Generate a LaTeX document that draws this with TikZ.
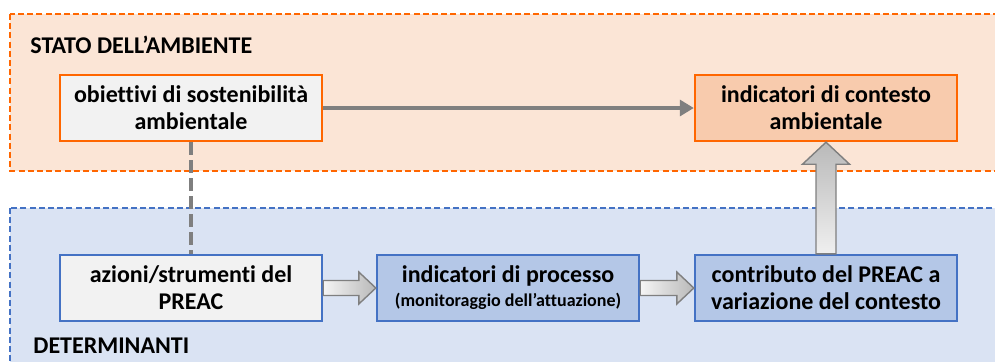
\documentclass[tikz,border=0pt]{standalone}
\usepackage{fontspec}
\setmainfont{Carlito}[Ligatures={NoCommon}]
\usetikzlibrary{calc,arrows.meta}
\definecolor{arancio}{HTML}{FF6600}
\definecolor{blu}{HTML}{4472C4}
\definecolor{grigio}{HTML}{7F7F7F}
\begin{document}
\begin{tikzpicture}[x=0.5pt,y=-0.5pt,
  area/.style={line width=0.8pt, dash pattern=on 3pt off 1.6pt},
  titolo/.style={anchor=west, inner sep=0pt, font=\bfseries\fontsize{12}{14}\selectfont},
  box/.style={line width=1.2pt, minimum width=131pt, minimum height=33pt,
    align=center, inner sep=0pt, font=\bfseries\fontsize{12}{13.5}\selectfont},
  blockarr/.style={draw=grigio, line width=0.7pt, line join=miter}]
  \useasboundingbox (0,0) rectangle (995,361);
  \clip (0,0) rectangle (995,361);
  % le due aree
  \draw[area, draw=arancio, fill={rgb,255:red,251;green,229;blue,214}] (10,14) rectangle (1010,171);
  \draw[area, draw=blu, fill={rgb,255:red,218;green,227;blue,243}] (10,208) rectangle (1010,380);
  \node[titolo] (stato) at (30,45) {STATO DELL’AMBIENTE};
  \node[titolo] (determ) at (33,346) {DETERMINANTI};
  % nodi
  \node[box, draw=arancio, fill={rgb,255:red,242;green,242;blue,242}] (obiettivi) at (191,108) {obiettivi di sostenibilità\\ambientale};
  \node[box, draw=arancio, fill={rgb,255:red,248;green,203;blue,173}] (contesto) at (826,108) {indicatori di contesto\\ambientale};
  \node[box, draw=blu, fill={rgb,255:red,242;green,242;blue,242}] (azioni) at (191,288) {azioni/strumenti del\\PREAC};
  \node[box, draw=blu, fill={rgb,255:red,180;green,199;blue,231}] (processo) at (508,288)
    {indicatori di processo\\[-1.5pt]{\fontsize{9}{10}\selectfont(monitoraggio dell’attuazione)}};
  \node[box, draw=blu, fill={rgb,255:red,180;green,199;blue,231}] (contributo) at (826,288) {contributo del PREAC a\\variazione del contesto};
  % connettori
  \draw[grigio, line width=1.6pt, -{Triangle[length=7pt,width=8pt]}] (obiettivi) -- (contesto);
  \draw[grigio, line width=2pt, dash pattern=on 6.5pt off 2.5pt] (obiettivi) -- (azioni);
  \foreach \a/\b in {azioni/processo, processo/contributo}
  {
    \draw[blockarr, left color=gray!8, right color=gray!55]
      ($(\a.east)+(0,-7.5)$) -- ($(\b.west)+(-17,-7.5)$) -- ($(\b.west)+(-17,-16)$) -- (\b.west)
      -- ($(\b.west)+(-17,16)$) -- ($(\b.west)+(-17,7.5)$) -- ($(\a.east)+(0,7.5)$) -- cycle;
  }
  \draw[blockarr, top color=gray!55, bottom color=gray!12]
    ($(contributo.north)+(-10,0)$) -- ($(contesto.south)+(-10,22)$) -- ($(contesto.south)+(-23.5,22)$) -- (contesto.south)
    -- ($(contesto.south)+(23.5,22)$) -- ($(contesto.south)+(10,22)$) -- ($(contributo.north)+(10,0)$) -- cycle;
\end{tikzpicture}
\end{document}
